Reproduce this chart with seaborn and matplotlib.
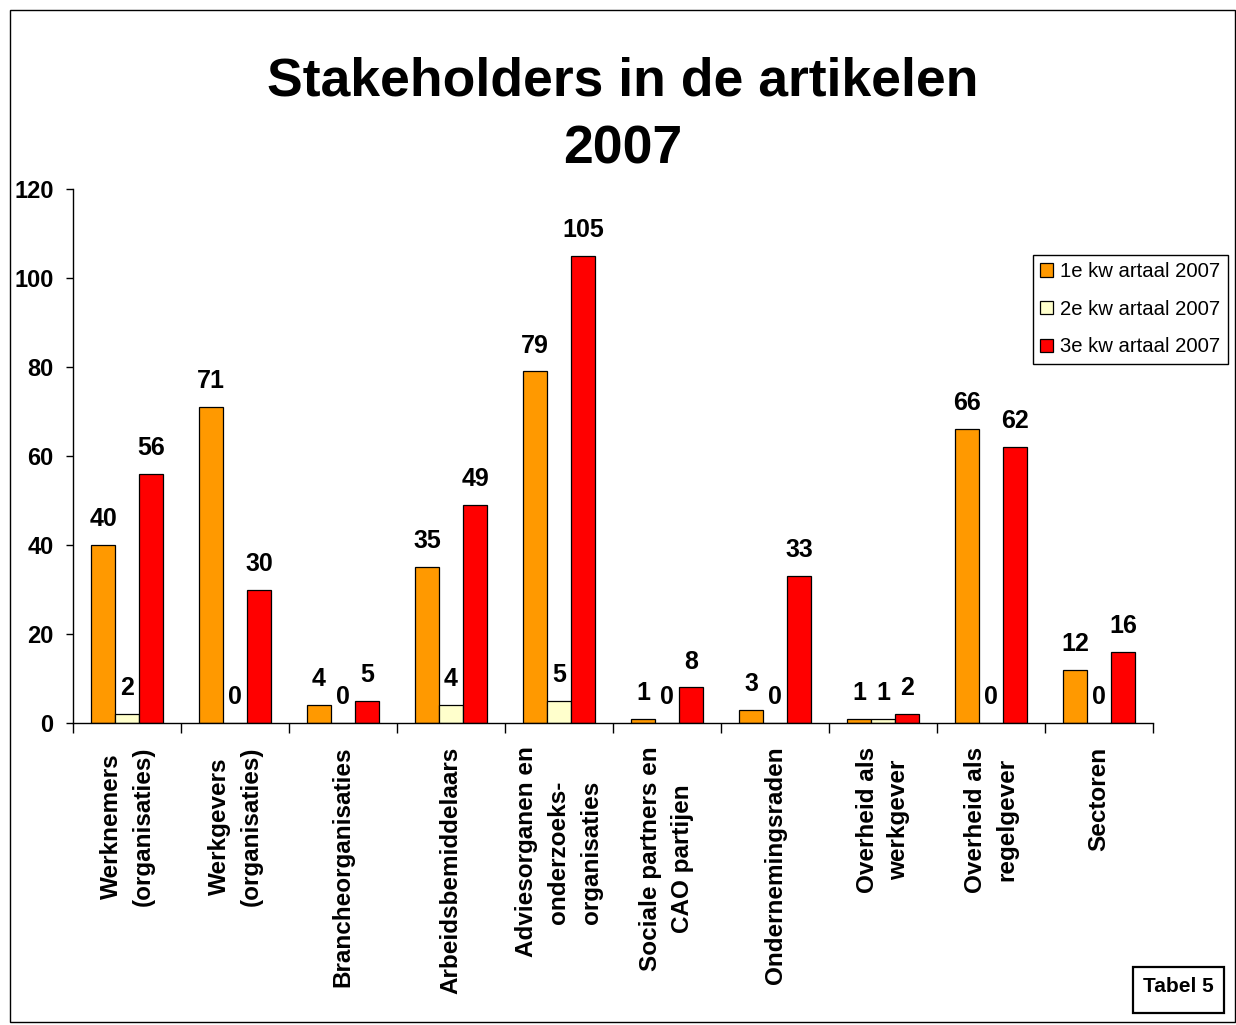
import numpy as np
import pandas as pd
import matplotlib
matplotlib.use("Agg")
import matplotlib.pyplot as plt
import seaborn as sns
from matplotlib.patches import Rectangle

categories = ["Werknemers\n(organisaties)", "Werkgevers\n(organisaties)",
              "Brancheorganisaties", "Arbeidsbemiddelaars",
              "Adviesorganen en\nonderzoeks-\norganisaties",
              "Sociale partners en\nCAO partijen", "Ondernemingsraden",
              "Overheid als\nwerkgever", "Overheid als\nregelgever", "Sectoren"]
series = ["1e kw artaal 2007", "2e kw artaal 2007", "3e kw artaal 2007"]
q1 = [40, 71, 4, 35, 79, 1, 3, 1, 66, 12]
q2 = [2, 0, 0, 4, 5, 0, 0, 1, 0, 0]
q3 = [56, 30, 5, 49, 105, 8, 33, 2, 62, 16]
yticks = [0, 20, 40, 60, 80, 100, 120]
colors = ["#FF9900", "#FFFFCC", "#FF0000"]
title = "Stakeholders in de artikelen\n2007"
note = "Tabel 5"

sns.set_theme(style="white")
plt.rcParams["font.family"] = ["Liberation Sans", "DejaVu Sans"]
plt.rcParams["text.color"] = "black"
plt.rcParams["axes.labelcolor"] = "black"
plt.rcParams["xtick.color"] = "black"
plt.rcParams["ytick.color"] = "black"

df = pd.DataFrame({
    "cat": categories * 3,
    "series": [series[0]] * 10 + [series[1]] * 10 + [series[2]] * 10,
    "val": q1 + q2 + q3,
})

W, H = 1236, 1025
fig = plt.figure(figsize=(W / 100, H / 100), dpi=100)
fig.patch.set_facecolor("white")
ax = fig.add_axes([73 / W, 1 - 723 / H, (1153 - 73) / W, (723 - 189) / H])

sns.barplot(data=df, x="cat", y="val", hue="series", palette=colors,
            width=2 / 3, gap=0, edgecolor="black", linewidth=0.9,
            saturation=1, ax=ax, legend=True)

ax.set_ylim(0, 120)
ax.set_xlim(-0.5, len(categories) - 0.5)
ax.set_xlabel("")
ax.set_ylabel("")
ax.set_yticks(yticks)
ax.set_yticklabels([str(v) for v in yticks], fontsize=17, fontweight="bold",
                   color="black")
ax.set_xticks(range(len(categories)))
ax.set_xticklabels(categories, rotation=90, fontsize=17.5, fontweight="bold",
                   ha="center", va="top", multialignment="center",
                   linespacing=1.5, color="black")
ax.set_xticks(np.arange(-0.5, len(categories), 1), minor=True)
ax.tick_params(axis="x", which="major", length=0, pad=17, bottom=True)
ax.tick_params(axis="x", which="minor", length=7, width=1, direction="out",
               bottom=True, color="black")
ax.tick_params(axis="y", which="major", length=5, width=1, direction="out",
               left=True, pad=9, color="black")
for side in ["top", "right"]:
    ax.spines[side].set_visible(False)
for side in ["left", "bottom"]:
    ax.spines[side].set_color("black")
    ax.spines[side].set_linewidth(1)
ax.grid(False)

for cont in ax.containers:
    ax.bar_label(cont, fmt="%d", padding=10, fontsize=18, fontweight="bold",
                 color="black")

leg = ax.legend(loc="upper left", bbox_to_anchor=(1033 / W, 1 - 255 / H),
                bbox_transform=fig.transFigure, borderaxespad=0,
                fontsize=14.6, frameon=True, fancybox=False, framealpha=1,
                edgecolor="black", handlelength=0.65, handleheight=0.65,
                handletextpad=0.35, labelspacing=0.92, borderpad=0.35)
leg.get_frame().set_linewidth(1)
for t in leg.get_texts():
    t.set_color("black")

fig.text(623 / W, 1 - 57 / H, title, ha="center", va="top", fontsize=38.5,
         fontweight="bold", linespacing=1.45, color="black")

# outer border
fig.patches.append(Rectangle((10 / W, 1 - 1022 / H), 1225 / W, 1012 / H,
                             transform=fig.transFigure, fill=False,
                             ec="black", lw=1))
# note box
fig.patches.append(Rectangle((1133 / W, 1 - 1013 / H), 91 / W, 46 / H,
                             transform=fig.transFigure, fill=False,
                             ec="black", lw=1.6))
fig.text(1178 / W, 1 - 992 / H, note, ha="center", va="baseline",
         fontsize=15, fontweight="bold", color="black")

fig.savefig("out.png", dpi=100, facecolor="white")
